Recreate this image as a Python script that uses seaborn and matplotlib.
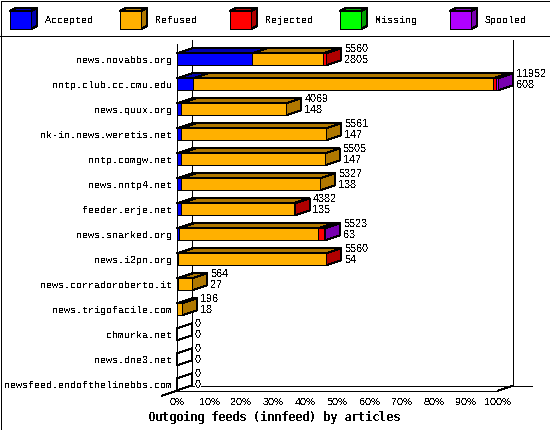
import matplotlib
matplotlib.use("Agg")
import matplotlib.pyplot as plt
import seaborn as sns
import numpy as np
from matplotlib.patches import Polygon, Rectangle
from matplotlib.lines import Line2D
from matplotlib.transforms import IdentityTransform

hosts = ["news.novabbs.org", "nntp.club.cc.cmu.edu", "news.quux.org", "nk-in.news.weretis.net",
         "nntp.comgw.net", "news.nntp4.net", "feeder.erje.net", "news.snarked.org", "news.i2pn.org",
         "news.corradoroberto.it", "news.trigofacile.com", "chmurka.net", "news.dne3.net",
         "newsfeed.endofthelinebbs.com"]
accepted = [2805, 608, 148, 147, 147, 138, 135, 63, 54, 27, 18, 0, 0, 0]
refused = [2645, 11170, 3921, 5414, 5358, 5189, 4207, 5198, 5496, 537, 178, 0, 0, 0]
rejected = [110, 92, 0, 0, 0, 0, 40, 209, 10, 0, 0, 0, 0, 0]
missing = [0] * 14
spooled = [0, 82, 0, 0, 0, 0, 0, 53, 0, 0, 0, 0, 0, 0]
totals = [5560, 11952, 4069, 5561, 5505, 5327, 4382, 5523, 5560, 564, 196, 0, 0, 0]
series_names = ["Accepted", "Refused", "Rejected", "Missing", "Spooled"]
series_vals = [accepted, refused, rejected, missing, spooled]
front_cols = ["#0000FF", "#FFB000", "#FF0000", "#00FF00", "#B000FF"]
dark_cols = ["#0000B0", "#B07800", "#B00000", "#00A000", "#7800B0"]
pct_ticks = list(range(0, 101, 10))
title = "Outgoing feeds (innfeed) by articles"

sns.set_theme(style="white")
plt.rcParams["font.family"] = ["Liberation Mono", "DejaVu Sans Mono"]
plt.rcParams["text.antialiased"] = False
plt.rcParams["text.hinting"] = "native"
plt.rcParams["text.hinting_factor"] = 1
plt.rcParams["patch.antialiased"] = False
plt.rcParams["lines.antialiased"] = False

W, H = 550, 430
DX, DY = 15, 5
LW = 0.72
NUM = "Liberation Sans"
fig = plt.figure(figsize=(W / 100, H / 100), dpi=100, facecolor="white")
L, R, T, B = 177, 498, 44, 390.7
ax = fig.add_axes([L / W, 1 - B / H, (R - L) / W, (B - T) / H])
ax.patch.set_alpha(0)
ax.set_zorder(2)

# cumulative layers, largest first, so each front face shows one segment
cum = np.cumsum(np.array(series_vals), axis=0)
for k in range(4, -1, -1):
    sns.barplot(x=cum[k], y=hosts, orient="h", color=front_cols[k], saturation=1, width=0.48,
                edgecolor="black", linewidth=LW, ax=ax, zorder=4)

ax.set_xlim(0, max(totals))
ax.set_ylim(13 + 6.4 / 25, -15.3 / 25)
ax.set_xticks([p / 100 * max(totals) for p in pct_ticks], [f"{p}%" for p in pct_ticks])
ax.tick_params(axis="x", length=3.6, width=LW, color="black", labelsize=7.2, pad=1.5, labelcolor="black")
for t in ax.get_xticklabels():
    t.set_family(NUM)
ax.tick_params(axis="y", length=0, labelsize=7.2, pad=3.6, labelcolor="black")
ax.set_xlabel("")
ax.set_ylabel("")
for s in ("top", "right"):
    ax.spines[s].set_visible(False)
for s in ("left", "bottom"):
    ax.spines[s].set_color("black")
    ax.spines[s].set_linewidth(LW)
    ax.spines[s].set_zorder(3)

fig.canvas.draw()
to_px = ax.transData.transform


def poly(pts, face, z=3):
    p = Polygon(pts, closed=True, facecolor=face, edgecolor="black", linewidth=LW,
                transform=IdentityTransform(), clip_on=False, zorder=z)
    fig.add_artist(p)


def pxline(xs, ys, z=1):
    fig.add_artist(Line2D(xs, ys, color="black", lw=LW, transform=IdentityTransform(), zorder=z))


# walls and floor
x0, y0 = to_px((0, 13 + 6.4 / 25))
x1, y1 = to_px((max(totals), 13 + 6.4 / 25))
ytop = H - T
pxline([x0 + DX, x0 + DX], [y0 + DY, ytop + 4])
pxline([x1 + DX, x1 + DX], [y0 + DY, ytop + 4])
pxline([x0 + DX, x1 + DX + 19], [y0 + DY, y0 + DY])
pxline([x0 - DX, x0], [y0 - DY, y0])
pxline([x1, x1 + DX], [y0, y0 + DY])

# depth faces computed from the data
half = 0.24
for i in range(len(hosts)):
    start = 0
    last = None
    for k in range(5):
        v = series_vals[k][i]
        if v == 0:
            continue
        a = to_px((start, i - half))
        b = to_px((start + v, i - half))
        poly([a, b, b + (DX, DY), a + (DX, DY)], dark_cols[k], z=1.5)
        start += v
        last = k
    b = to_px((start, i - half))
    c = to_px((start, i + half))
    poly([b, c, c + (DX, DY), b + (DX, DY)], dark_cols[last] if last is not None else "white", z=1.5)
    for txt, dy in ((totals[i], 7.2), (accepted[i], -0.7)):
        ax.annotate(str(txt), xy=(totals[i], i), xytext=(18 * .72, dy), textcoords="offset points",
                    fontsize=7.8, family=NUM, va="center", ha="left", color="black", zorder=6,
                    bbox=dict(facecolor="white", edgecolor="none", pad=0))

fig.text(274 / W, 1 - 417 / H, title, fontsize=8.4, fontweight="bold", family="DejaVu Sans Mono",
         ha="center", va="center", color="black")

# header legend
for k, name in enumerate(series_names):
    x = 10 + 110 * k
    top, bot = 11, 29
    w = 21
    poly([(x, H - top), (x + w, H - top), (x + w + 6, H - top + 3), (x + 6, H - top + 3)], dark_cols[k])
    poly([(x + w, H - top), (x + w, H - bot), (x + w + 6, H - bot + 3), (x + w + 6, H - top + 3)], dark_cols[k])
    poly([(x, H - top), (x + w, H - top), (x + w, H - bot), (x, H - bot)], front_cols[k])
    fig.text((x + 35) / W, 1 - 20 / H, name, fontsize=7.2, ha="left", va="center", color="black")

pxline([0, W], [H - 35.5, H - 35.5])
fig.add_artist(Rectangle((0.5, 0.5), W - 1, H - 1, facecolor="none", edgecolor="black", linewidth=LW,
                         transform=IdentityTransform(), zorder=5))
fig.savefig("out.png", dpi=100)
